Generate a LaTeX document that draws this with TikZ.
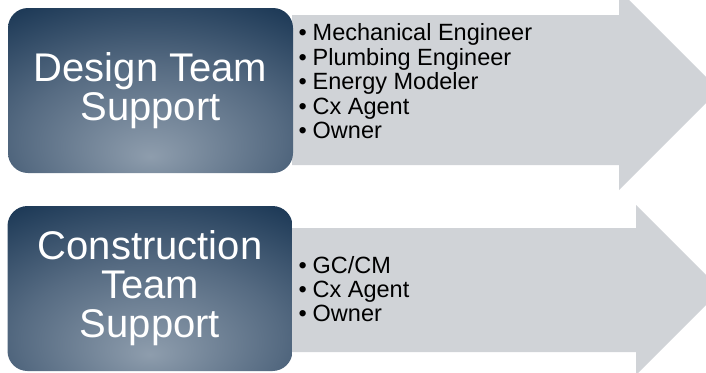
\documentclass[tikz,border=0pt]{standalone}
\usepackage{fontspec}
\setmainfont{Liberation Sans}
\usepackage{tikz}

\definecolor{glowin}{RGB}{142,157,173}
\definecolor{glowmid}{RGB}{86,107,130}
\definecolor{glowout}{RGB}{23,52,82}
\definecolor{arrowgray}{RGB}{208,211,215}

\pgfdeclareradialshading{teamglow}{\pgfpoint{0bp}{-20bp}}{%
  color(0bp)=(glowin); color(23bp)=(glowmid); color(45bp)=(glowout);
  color(100bp)=(glowout)}

\newcommand\itembullet{\makebox[14pt][l]{\textbullet}}

\begin{document}
\begin{tikzpicture}[x=1pt,y=-1pt,
    teambox/.style={rounded corners=20pt,shading=teamglow,
                    minimum width=285pt,minimum height=165pt,inner sep=0pt,
                    text=white,align=center,font=\fontsize{40}{39}\selectfont},
    item/.style={anchor=base west,inner sep=0pt,
                 font=\fontsize{23.5}{24.5}\selectfont}
    ]

    \useasboundingbox (0,0) rectangle (706,372);
    \clip (0,0) rectangle (706,372);

    % The arrows
    \fill[arrowgray] (292,15) -- (619,15) -- (619,-10) -- (719,90)
        -- (619,190) -- (619,165) -- (292,165) -- cycle;
    \fill[arrowgray] (292,228) -- (636,228) -- (636,205) -- (721,290)
        -- (636,375) -- (636,352) -- (292,352) -- cycle;

    % The boxes
    \node[teambox] (design) at (150.5,90.5) {Design Team\\Support};
    \node[teambox] (construction) at (150,288.5) {Construction\\Team\\Support};

    % The lists
    \foreach \t [count=\i] in {Mechanical Engineer,Plumbing Engineer,Energy Modeler,Cx Agent,Owner}
        \node[item] (design\i) at (298.5,{40.5+24.5*(\i-1)}) {\itembullet\t};
    \foreach \t [count=\i] in {GC/CM,Cx Agent,Owner}
        \node[item] (construction\i) at (298.5,{273+24*(\i-1)}) {\itembullet\t};
\end{tikzpicture}
\end{document}
